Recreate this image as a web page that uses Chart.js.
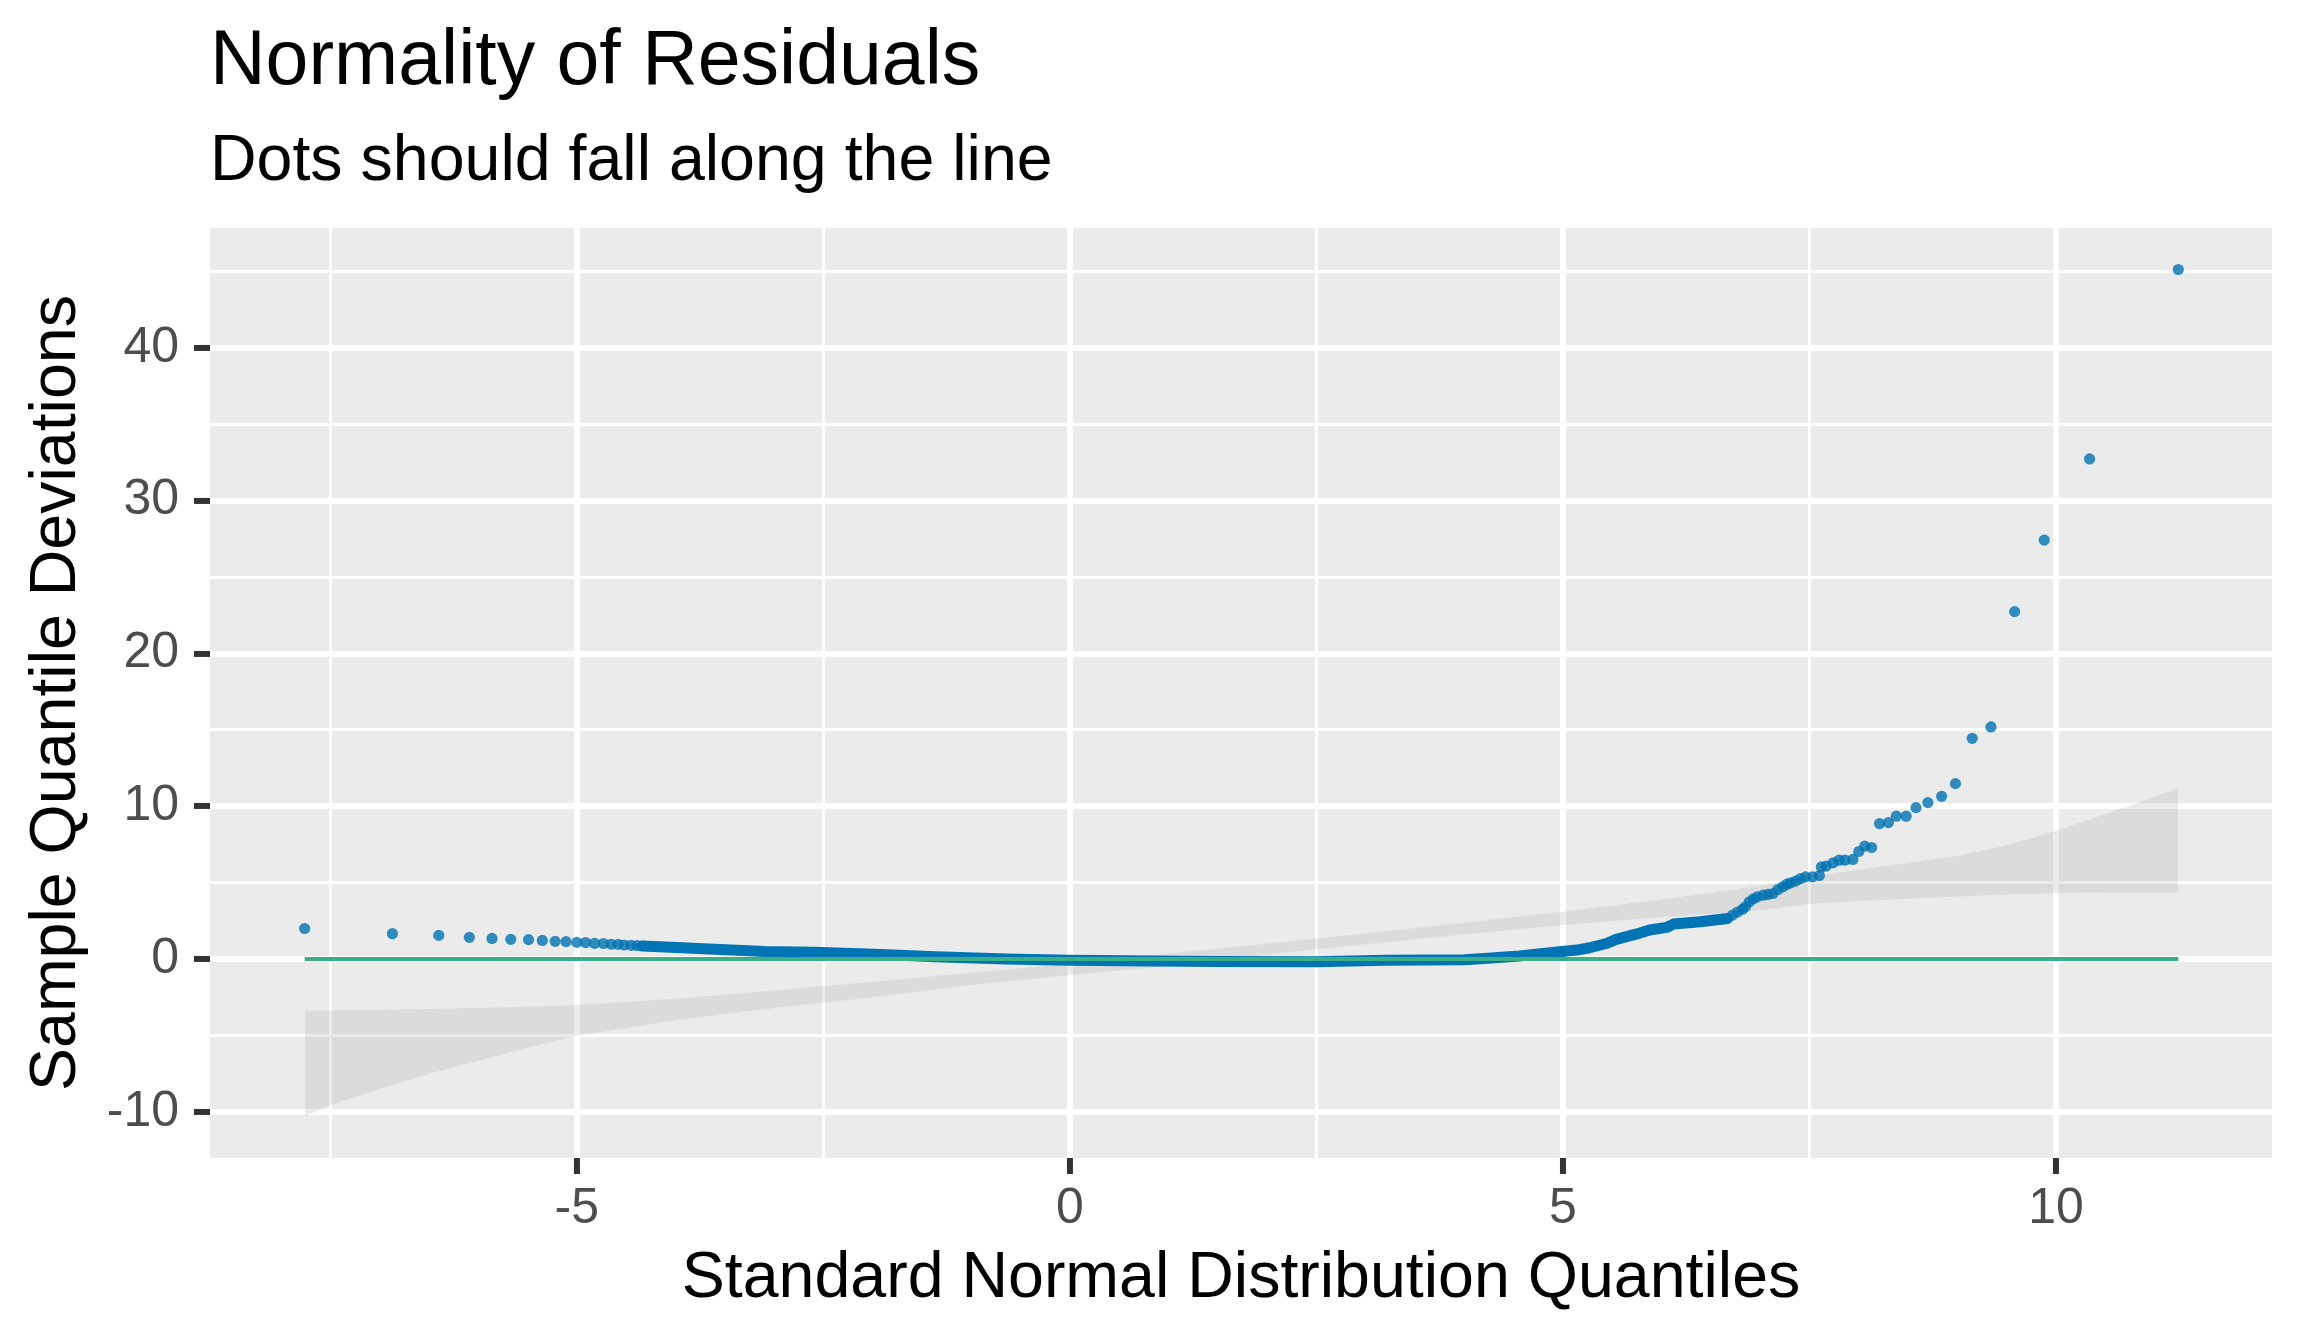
<!DOCTYPE html>
<html>
<head>
<meta charset="utf-8">
<title>Normality of Residuals</title>
<script src="https://cdn.jsdelivr.net/npm/chart.js@4.4.1/dist/chart.umd.min.js"></script>
<style>
  html, body { margin: 0; padding: 0; background: #ffffff; overflow: hidden; }
  #wrap { width: 2304px; height: 1344px; }
</style>
</head>
<body>
<div id="wrap"><canvas id="qqChart" width="2304" height="1344"></canvas></div>
<script>
// Separate dots (left tail and right tail)
const tailX = [-7.76, -6.87, -6.40, -6.09, -5.86, -5.67, -5.49, -5.35, -5.22, -5.11, -5.00, -4.91, -4.82, -4.73, -4.65, -4.58, -4.52, -4.45, -4.39,
    6.72, 6.77, 6.82, 6.85, 6.89, 6.93, 6.97, 7.03, 7.08, 7.13, 7.18, 7.23, 7.27, 7.31, 7.36, 7.41, 7.46, 7.53, 7.60, 7.62,
    7.67, 7.74, 7.80, 7.86, 7.94, 8.00, 8.06, 8.13, 8.21, 8.30, 8.38, 8.48, 8.58, 8.70, 8.84, 8.98, 9.15, 9.34, 9.58, 9.88, 10.34, 11.24];
const tailY = [2.00, 1.66, 1.55, 1.42, 1.35, 1.29, 1.27, 1.22, 1.16, 1.14, 1.09, 1.08, 1.03, 1.02, 0.97, 0.96, 0.92, 0.90, 0.88,
    2.88, 3.07, 3.25, 3.42, 3.75, 3.94, 4.07, 4.18, 4.23, 4.29, 4.55, 4.73, 4.90, 4.99, 5.10, 5.27, 5.38, 5.38, 5.47, 6.03,
    6.08, 6.30, 6.47, 6.47, 6.52, 7.04, 7.39, 7.30, 8.87, 8.93, 9.35, 9.35, 9.91, 10.24, 10.65, 11.48, 14.45, 15.19, 22.74, 27.42, 32.73, 45.13];

// Dense run of overlapping dots in the middle
const trailX = [-4.34, -4.05, -3.60, -3.10, -2.59, -1.98, -1.36, -0.64, 0.00, 0.31, 0.83, 1.50, 2.50, 3.20, 4.00, 4.20,
    4.56, 4.87, 5.14, 5.27, 5.44, 5.54, 5.74, 5.88, 6.05, 6.12, 6.39, 6.67];
const trailY = [0.86, 0.78, 0.65, 0.50, 0.44, 0.31, 0.15, 0.01, -0.07, -0.10, -0.12, -0.16, -0.17, -0.08, -0.05, 0.04,
    0.20, 0.41, 0.59, 0.74, 1.02, 1.29, 1.63, 1.90, 2.07, 2.29, 2.44, 2.66];

// Confidence band
const bandX = [-7.76, -7.5, -7, -6.5, -6, -5.5, -5, -4, -3, -2.5, -2, -1, 0, 1, 2, 2.5, 3, 4, 5, 6, 7, 7.5, 8, 9, 9.5, 10, 10.5, 11, 11.24];
const bandUpper = [-3.39, -3.37, -3.33, -3.27, -3.20, -3.12, -3.00, -2.60, -2.05, -1.77, -1.50, -0.90, -0.30, 0.36, 1.00, 1.34, 1.68, 2.38,
    3.10, 3.90, 4.80, 5.38, 5.85, 6.75, 7.45, 8.40, 9.50, 10.60, 11.20];
const bandLower = [-10.30, -9.55, -8.50, -7.50, -6.65, -5.80, -5.02, -4.00, -3.20, -2.86, -2.50, -1.70, -1.05, -0.45, 0.30, 0.65, 0.97, 1.62,
    2.23, 2.75, 3.20, 3.60, 3.80, 4.10, 4.23, 4.33, 4.35, 4.35, 4.35];

// Reference line
const refX = [-7.76, 11.24];
const refY = [0, 0];

// Axis breaks
const xTicks = [-7.5, -5, -2.5, 0, 2.5, 5, 7.5, 10];
const xLabels = [-5, 0, 5, 10];
const yTicks = [-10, -5, 0, 5, 10, 15, 20, 25, 30, 35, 40, 45];
const yLabels = [-10, 0, 10, 20, 30, 40];

function toPoints(xs, ys) {
    return xs.map((x, i) => ({ x: x, y: ys[i] }));
}

// Grey panel behind the grid
const panelBg = {
    id: 'panelBg',
    beforeDraw(chart) {
        const { ctx, chartArea } = chart;
        ctx.save();
        ctx.fillStyle = '#EBEBEB';
        ctx.fillRect(chartArea.left, chartArea.top, chartArea.right - chartArea.left, chartArea.bottom - chartArea.top);
        ctx.restore();
    }
};

Chart.defaults.font.family = "'Liberation Sans', Arial, sans-serif";

function isMajor(list, ctx) {
    return ctx.tick && list.includes(ctx.tick.value);
}

const ctx = document.getElementById('qqChart').getContext('2d');
new Chart(ctx, {
    type: 'scatter',
    data: {
        datasets: [
            {
                label: 'Reference',
                data: toPoints(refX, refY),
                showLine: true,
                borderColor: '#3AAF85',
                borderWidth: 4,
                pointRadius: 0,
                order: 0
            },
            {
                label: 'Residuals',
                data: toPoints(tailX, tailY),
                backgroundColor: 'rgba(0, 114, 178, 0.8)',
                borderWidth: 0,
                pointRadius: 5.6,
                order: 1
            },
            {
                label: 'Residuals (dense)',
                data: toPoints(trailX, trailY),
                showLine: true,
                borderColor: 'rgb(0, 116, 180)',
                borderWidth: 11,
                borderCapStyle: 'round',
                borderJoinStyle: 'round',
                pointRadius: 0,
                order: 2
            },
            {
                label: 'Band upper',
                data: toPoints(bandX, bandUpper),
                showLine: true,
                borderColor: 'rgba(0,0,0,0)',
                borderWidth: 0,
                pointRadius: 0,
                backgroundColor: 'rgba(153, 153, 153, 0.2)',
                fill: '+1',
                order: 3
            },
            {
                label: 'Band lower',
                data: toPoints(bandX, bandLower),
                showLine: true,
                borderColor: 'rgba(0,0,0,0)',
                borderWidth: 0,
                pointRadius: 0,
                fill: false,
                order: 4
            }
        ]
    },
    options: {
        responsive: false,
        animation: false,
        layout: {
            padding: { top: 0, right: 32, bottom: 0, left: 0 }
        },
        plugins: {
            legend: { display: false },
            tooltip: { enabled: false },
            title: {
                display: true,
                text: 'Normality of Residuals',
                align: 'start',
                fullSize: false,
                color: '#000000',
                font: { size: 77, weight: 'normal' },
                padding: { top: 17, bottom: 0 }
            },
            subtitle: {
                display: true,
                text: 'Dots should fall along the line',
                align: 'start',
                fullSize: false,
                color: '#000000',
                font: { size: 64.5, weight: 'normal' },
                padding: { top: 14.5, bottom: 26.8 }
            }
        },
        scales: {
            x: {
                type: 'linear',
                position: 'bottom',
                min: -8.72,
                max: 12.19,
                afterBuildTicks(scale) {
                    scale.ticks = xTicks.map(v => ({ value: v }));
                },
                afterFit(scale) {
                    scale.height = 186;
                },
                border: { display: false },
                grid: {
                    color: '#FFFFFF',
                    lineWidth: c => isMajor(xLabels, c) ? 5.9 : 2.95,
                    tickLength: 16,
                    tickWidth: 6,
                    tickColor: c => isMajor(xLabels, c) ? '#333333' : 'rgba(0,0,0,0)'
                },
                ticks: {
                    autoSkip: false,
                    maxRotation: 0,
                    padding: 5,
                    color: '#4D4D4D',
                    font: { size: 50 },
                    callback: v => xLabels.includes(v) ? String(v) : ''
                },
                title: {
                    display: true,
                    text: 'Standard Normal Distribution Quantiles',
                    color: '#000000',
                    font: { size: 64.5 },
                    padding: { top: 0, bottom: 26 }
                }
            },
            y: {
                type: 'linear',
                position: 'left',
                min: -13.02,
                max: 47.84,
                afterBuildTicks(scale) {
                    scale.ticks = yTicks.map(v => ({ value: v }));
                },
                afterFit(scale) {
                    scale.width = 210;
                },
                border: { display: false },
                grid: {
                    color: '#FFFFFF',
                    lineWidth: c => isMajor(yLabels, c) ? 5.9 : 2.95,
                    tickLength: 16,
                    tickWidth: 6,
                    tickColor: c => isMajor(yLabels, c) ? '#333333' : 'rgba(0,0,0,0)'
                },
                ticks: {
                    autoSkip: false,
                    padding: 15,
                    color: '#4D4D4D',
                    font: { size: 50 },
                    callback: v => yLabels.includes(v) ? String(v) : ''
                },
                title: {
                    display: true,
                    text: 'Sample Quantile Deviations',
                    color: '#000000',
                    font: { size: 64.5 },
                    padding: { top: 18.5, bottom: 0 }
                }
            }
        }
    },
    plugins: [panelBg]
});
</script>
</body>
</html>
